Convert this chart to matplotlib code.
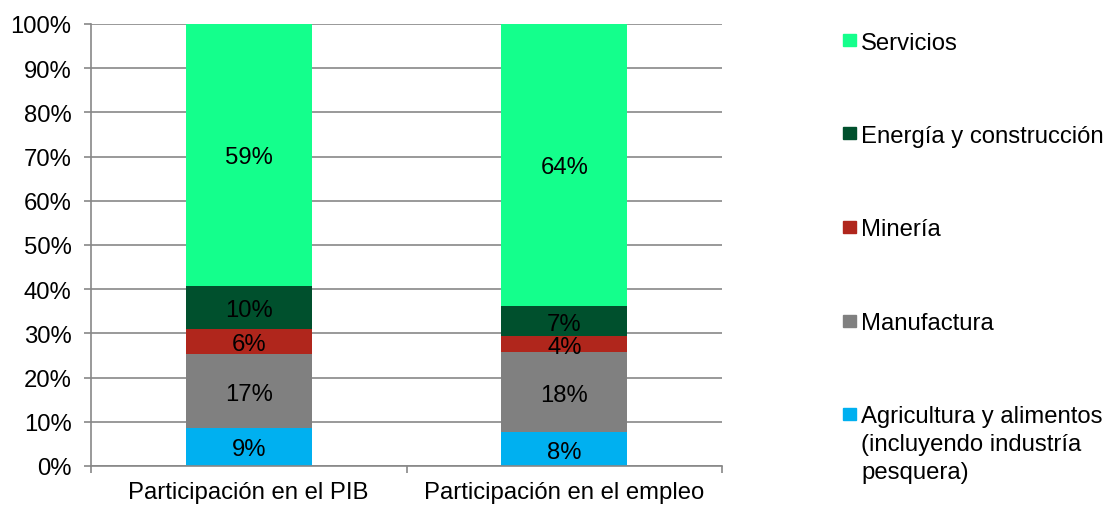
import matplotlib
matplotlib.use("Agg")
import matplotlib.pyplot as plt
from matplotlib.patches import Rectangle
import numpy as np

plt.rcParams['font.family'] = ['Liberation Sans', 'DejaVu Sans']

categories = ["Participación en el PIB", "Participación en el empleo"]
series_names = ["Agricultura y alimentos\n(incluyendo industría\npesquera)",
                "Manufactura", "Minería", "Energía y construcción", "Servicios"]
agricultura = [8.6, 7.6]
manufactura = [16.7, 18.1]
mineria = [5.7, 3.7]
energia = [9.7, 6.7]
servicios = [59.4, 64.0]
labels_pct = [["9%", "8%"], ["17%", "18%"], ["6%", "4%"], ["10%", "7%"], ["59%", "64%"]]
yticks = [0, 10, 20, 30, 40, 50, 60, 70, 80, 90, 100]
colors = ["#00B0F0", "#808080", "#B0261C", "#00502D", "#14FF8C"]

W, H = 1104, 506
fig = plt.figure(figsize=(W / 100, H / 100), dpi=100)
ax = fig.add_axes([91 / W, (H - 467) / H, (722 - 91) / W, (467 - 25) / H])

FS = 17.2
series = [agricultura, manufactura, mineria, energia, servicios]
x = np.arange(len(categories))
bottom = np.zeros(len(categories))
for vals, col, labs in zip(series, colors, labels_pct):
    vals = np.array(vals)
    ax.bar(x, vals, width=0.4, bottom=bottom, color=col, zorder=2)
    for xi, b, v, lab in zip(x, bottom, vals, labs):
        ax.text(xi, b + v / 2, lab, ha="center", va="center_baseline", fontsize=FS, color="black", zorder=3)
    bottom = bottom + vals

ax.set_xlim(-0.5, 1.5)
ax.set_ylim(0, 100)
ax.set_yticks(yticks)
ax.set_yticklabels([f"{t}%" for t in yticks], fontsize=FS)
ax.yaxis.grid(True, color="#878787", linewidth=1.2, zorder=0)
ax.set_axisbelow(True)
ax.set_xticks(x)
ax.set_xticklabels(categories, fontsize=FS)
ax.set_xticks([-0.5, 0.5, 1.5], minor=True)
ax.tick_params(axis="x", which="major", length=0, pad=10.5)
ax.tick_params(axis="x", which="minor", length=5, color="#878787", width=1.2)
ax.tick_params(axis="y", length=5, color="#878787", width=1.2, pad=9)
for s in ["top", "right"]:
    ax.spines[s].set_visible(False)
for s in ["left", "bottom"]:
    ax.spines[s].set_color("#878787")
    ax.spines[s].set_linewidth(1.2)

# legend (reversed order), manual layout
leg_y = [41, 134, 228, 322, 415]
for i, (name, col) in enumerate(zip(series_names[::-1], colors[::-1])):
    yc = leg_y[i]
    fig.add_artist(Rectangle((843 / W, (H - yc - 6) / H), 13 / W, 12 / H,
                             transform=fig.transFigure, color=col))
    if "\n" in name:
        fig.text(861 / W, (H - yc + 9) / H, name, fontsize=FS, ha="left", va="top", linespacing=1.36)
    else:
        fig.text(861 / W, (H - yc) / H, name, fontsize=FS, ha="left", va="center_baseline")

fig.savefig("out.png", dpi=100)
